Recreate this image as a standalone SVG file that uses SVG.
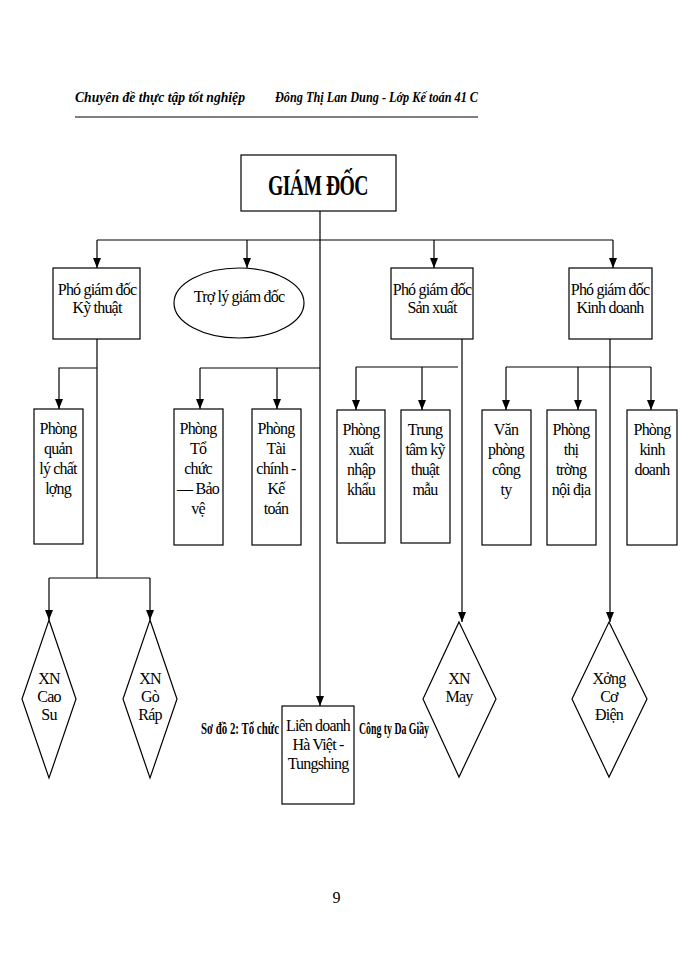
<svg xmlns="http://www.w3.org/2000/svg" width="700" height="960" viewBox="0 0 700 960">
<defs>
<marker id="a" markerWidth="10" markerHeight="8" refX="10" refY="4" orient="auto" markerUnits="userSpaceOnUse" viewBox="0 0 10 8"><path d="M0,0 L10,4 L0,8 Z" fill="#000"/></marker>
<style>
text{font-family:"Liberation Serif",serif;fill:#000;text-anchor:middle;font-size:16px;letter-spacing:-0.8px}
.b{fill:#fff;stroke:#000;stroke-width:1.2}
.c line,.c polyline{stroke:#000;stroke-width:1.2;fill:none}
.h{font-style:italic;font-size:14px;text-anchor:start;font-family:"Liberation Serif",serif;font-weight:bold;letter-spacing:0}
.cap{text-anchor:start;font-size:17px;font-weight:bold;letter-spacing:0}
</style>
</defs>
<rect width="700" height="960" fill="#fff"/>
<text class="h" x="75" y="102" textLength="170" lengthAdjust="spacingAndGlyphs">Chuyên đề thực tập tốt nghiệp</text>
<text class="h" x="275" y="102" textLength="203" lengthAdjust="spacingAndGlyphs">Đông   Thị Lan Dung - Lớp Kế toán 41 C</text>
<line x1="75" y1="117" x2="478" y2="117" stroke="#555" stroke-width="1.5"/>
<text class="cap" x="201" y="734" textLength="78" lengthAdjust="spacingAndGlyphs">Sơ đồ 2:  Tổ chức</text>
<text class="cap" x="359" y="734" textLength="70" lengthAdjust="spacingAndGlyphs">Công ty Da Giầy</text>
<g class="c">
<line x1="320" y1="211" x2="320" y2="706" marker-end="url(#a)"/>
<line x1="97" y1="240" x2="613" y2="240"/>
<line x1="97" y1="240" x2="97" y2="268" marker-end="url(#a)"/>
<line x1="247" y1="240" x2="247" y2="268" marker-end="url(#a)"/>
<line x1="434" y1="240" x2="434" y2="268" marker-end="url(#a)"/>
<line x1="613" y1="240" x2="613" y2="268" marker-end="url(#a)"/>
<line x1="97" y1="339" x2="97" y2="578"/>
<polyline points="97,368 59,368 59,409" marker-end="url(#a)"/>
<line x1="49" y1="578" x2="150" y2="578"/>
<line x1="49" y1="578" x2="49" y2="620" marker-end="url(#a)"/>
<line x1="150" y1="578" x2="150" y2="620" marker-end="url(#a)"/>
<line x1="200" y1="368" x2="320" y2="368"/>
<line x1="200" y1="368" x2="200" y2="409" marker-end="url(#a)"/>
<line x1="277" y1="368" x2="277" y2="409" marker-end="url(#a)"/>
<line x1="462" y1="339" x2="462" y2="622" marker-end="url(#a)"/>
<line x1="356" y1="367" x2="458" y2="367"/>
<line x1="356" y1="367" x2="356" y2="410" marker-end="url(#a)"/>
<line x1="422" y1="367" x2="422" y2="410" marker-end="url(#a)"/>
<line x1="610" y1="339" x2="610" y2="622" marker-end="url(#a)"/>
<line x1="506" y1="367" x2="651" y2="367"/>
<line x1="506" y1="367" x2="506" y2="410" marker-end="url(#a)"/>
<line x1="578" y1="367" x2="578" y2="410" marker-end="url(#a)"/>
<line x1="651" y1="367" x2="651" y2="410" marker-end="url(#a)"/>
</g>
<g id="giamdoc"><rect class="b" x="241" y="155" width="155" height="56"/><text x="318" y="195" style="font-size:29px;font-weight:bold" textLength="100" lengthAdjust="spacingAndGlyphs">GIÁM ĐỐC</text></g>
<g id="pgd-kt"><rect class="b" x="53" y="268" width="87" height="71"/><text x="97" y="295">Phó giám đốc</text><text x="97" y="313">Kỹ thuật</text></g>
<g id="troly"><ellipse class="b" cx="239" cy="303" rx="65" ry="35"/><text x="239" y="302">Trợ lý giám đốc</text></g>
<g id="pgd-sx"><rect class="b" x="391" y="268" width="82" height="71"/><text x="432" y="295">Phó giám đốc</text><text x="432" y="313">Sản xuất</text></g>
<g id="pgd-kd"><rect class="b" x="569" y="268" width="83" height="71"/><text x="610" y="295">Phó giám đốc</text><text x="610" y="313">Kinh doanh</text></g>
<g id="p-qlcl"><rect class="b" x="34" y="409" width="49" height="135"/><text x="58" y="434">Phòng</text><text x="58" y="454">quản</text><text x="58" y="474">lý chất</text><text x="58" y="494">lợng</text></g>
<g id="p-tcbv"><rect class="b" x="174" y="409" width="49" height="136"/><text x="198" y="434">Phòng</text><text x="198" y="454">Tổ</text><text x="198" y="474">chức</text><text x="198" y="494">— Bảo</text><text x="198" y="514">vệ</text></g>
<g id="p-tckt"><rect class="b" x="252" y="409" width="49" height="136"/><text x="276" y="434">Phòng</text><text x="276" y="454">Tài</text><text x="276" y="474">chính -</text><text x="276" y="494">Kế</text><text x="276" y="514">toán</text></g>
<g id="p-xnk"><rect class="b" x="337" y="410" width="48" height="133"/><text x="361" y="435">Phòng</text><text x="361" y="455">xuất</text><text x="361" y="475">nhập</text><text x="361" y="495">khẩu</text></g>
<g id="ttkt"><rect class="b" x="401" y="410" width="49" height="133"/><text x="425" y="435">Trung</text><text x="425" y="455">tâm kỹ</text><text x="425" y="475">thuật</text><text x="425" y="495">mẫu</text></g>
<g id="vp"><rect class="b" x="482" y="410" width="49" height="135"/><text x="506" y="435">Văn</text><text x="506" y="455">phòng</text><text x="506" y="475">công</text><text x="506" y="495">ty</text></g>
<g id="p-ttnd"><rect class="b" x="547" y="410" width="49" height="135"/><text x="571" y="435">Phòng</text><text x="571" y="455">thị</text><text x="571" y="475">trờng</text><text x="571" y="495">nội địa</text></g>
<g id="p-kd"><rect class="b" x="627" y="410" width="50" height="135"/><text x="652" y="435">Phòng</text><text x="652" y="455">kinh</text><text x="652" y="475">doanh</text></g>
<g id="xn-caosu"><polygon class="b" points="49,620 76,699 49,778 22,699"/><text x="49" y="684">XN</text><text x="49" y="702">Cao</text><text x="49" y="720">Su</text></g>
<g id="xn-gorap"><polygon class="b" points="150,620 177,699 150,778 123,699"/><text x="150" y="684">XN</text><text x="150" y="702">Gò</text><text x="150" y="720">Ráp</text></g>
<g id="xn-may"><polygon class="b" points="459,622 496,699 459,777 423,699"/><text x="459" y="684">XN</text><text x="459" y="702">May</text></g>
<g id="xuong-cd"><polygon class="b" points="609,622 647,699 609,777 572,699"/><text x="609" y="684">Xởng</text><text x="609" y="702">Cơ</text><text x="609" y="720">Điện</text></g>
<g id="liendoanh"><rect class="b" x="282" y="706" width="72" height="98"/><text x="318" y="731" textLength="64" lengthAdjust="spacingAndGlyphs">Liên doanh</text><text x="318" y="750">Hà Việt -</text><text x="318" y="769">Tungshing</text></g>
<text x="336" y="903">9</text>
</svg>
